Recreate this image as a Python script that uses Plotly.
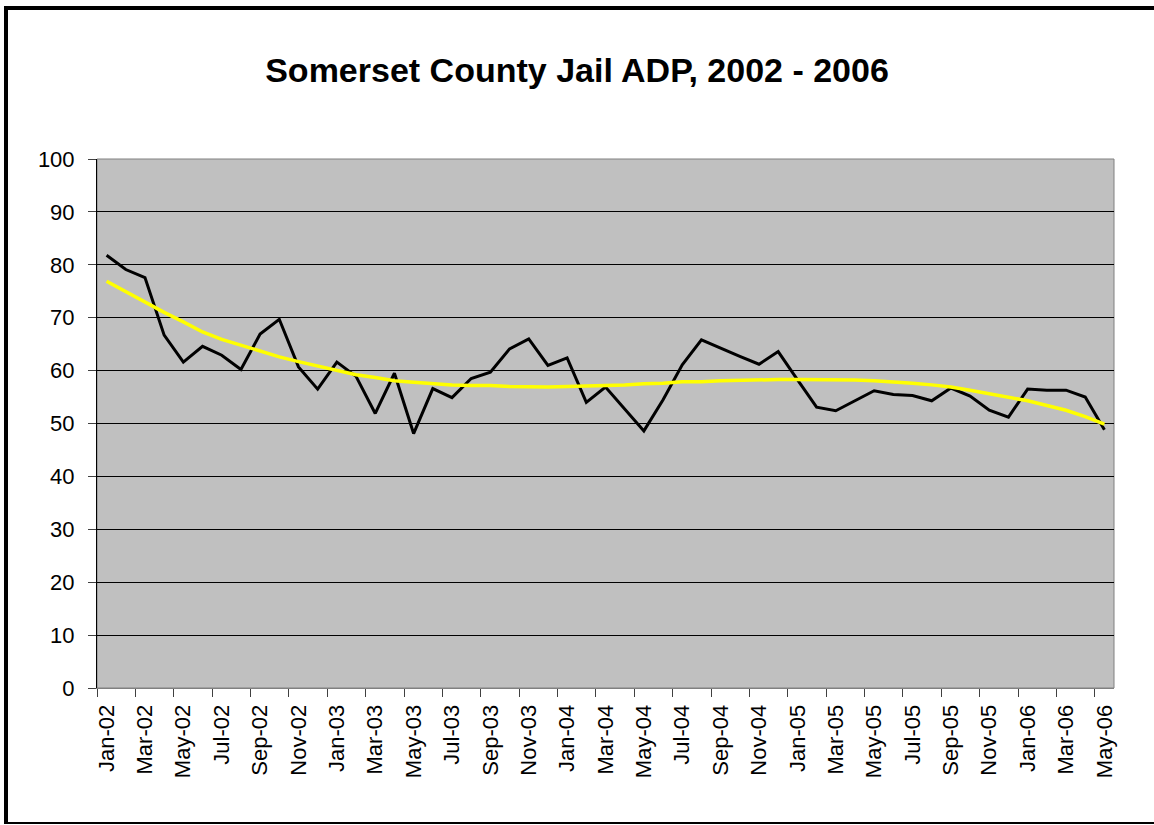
import plotly.graph_objects as go

months = ["Jan-02", "Feb-02", "Mar-02", "Apr-02", "May-02", "Jun-02", "Jul-02", "Aug-02", "Sep-02", "Oct-02", "Nov-02", "Dec-02",
          "Jan-03", "Feb-03", "Mar-03", "Apr-03", "May-03", "Jun-03", "Jul-03", "Aug-03", "Sep-03", "Oct-03", "Nov-03", "Dec-03",
          "Jan-04", "Feb-04", "Mar-04", "Apr-04", "May-04", "Jun-04", "Jul-04", "Aug-04", "Sep-04", "Oct-04", "Nov-04", "Dec-04",
          "Jan-05", "Feb-05", "Mar-05", "Apr-05", "May-05", "Jun-05", "Jul-05", "Aug-05", "Sep-05", "Oct-05", "Nov-05", "Dec-05",
          "Jan-06", "Feb-06", "Mar-06", "Apr-06", "May-06"]

adp = [81.8, 79.1, 77.6, 66.7, 61.6, 64.6, 62.9, 60.2, 66.9, 69.7,
       60.7, 56.5, 61.6, 58.9, 51.9, 59.5, 48.1, 56.6, 54.9, 58.5,
       59.7, 64.1, 66.0, 61.0, 62.4, 54.0, 56.9, 52.7, 48.6, 54.5,
       61.1, 65.8, 64.2, 62.7, 61.2, 63.6, 58.3, 53.1, 52.4, 54.3,
       56.2, 55.5, 55.3, 54.3, 56.7, 55.2, 52.5, 51.2, 56.5, 56.3,
       56.3, 55.0, 48.8]

trend = [76.9, 74.9, 73.0, 71.0, 69.2, 67.3, 65.9, 64.8, 63.7, 62.6,
         61.7, 60.9, 60.0, 59.2, 58.7, 58.1, 57.8, 57.5, 57.3, 57.2,
         57.2, 57.0, 56.9, 56.9, 57.0, 57.1, 57.1, 57.3, 57.5, 57.6,
         57.9, 57.9, 58.1, 58.2, 58.2, 58.3, 58.3, 58.3, 58.3, 58.2,
         58.1, 57.9, 57.6, 57.3, 56.9, 56.3, 55.6, 55.0, 54.3, 53.4,
         52.5, 51.3, 49.9]

label_months = months[::2]
title = "Somerset County Jail ADP, 2002 - 2006"

W, H = 1154, 825
ML, MR, MT, MB = 97, 40, 159, 137
PW, PH = W - ML - MR, H - MT - MB

def px(x):
    return (x - ML) / PW

def py(y):
    return (H - MB - y) / PH

FONT = "Liberation Sans, Arial, sans-serif"

fig = go.Figure()
fig.add_trace(go.Scatter(x=months, y=adp, mode="lines",
                         line=dict(color="black", width=3), showlegend=False))
fig.add_trace(go.Scatter(x=months, y=trend, mode="lines",
                         line=dict(color="#FFFF00", width=3.5), showlegend=False))
# helper trace for boundary tick marks
n = len(months)
fig.add_trace(go.Scatter(x=[-0.5], y=[0], mode="lines", xaxis="x2",
                         showlegend=False, hoverinfo="skip"))

fig.update_layout(
    width=W, height=H,
    margin=dict(l=ML, r=MR, t=MT, b=MB),
    paper_bgcolor="white",
    plot_bgcolor="#C0C0C0",
    font=dict(family=FONT, color="black", size=22),
    title=dict(text="<b>" + title + "</b>", x=0.5, xref="container", xanchor="center",
               y=1 - 70 / H, yref="container", yanchor="middle",
               font=dict(family=FONT, size=34, color="black")),
    xaxis=dict(type="category", categoryorder="array", categoryarray=months,
               range=[-0.5, n - 0.5], tickmode="array", tickvals=label_months,
               ticktext=label_months, tickangle=-90, ticks="", showgrid=False,
               showline=True, linecolor="#808080", linewidth=1,
               ticklabelstandoff=7, tickfont=dict(size=22)),
    xaxis2=dict(overlaying="x", anchor="y", side="bottom", range=[-0.5, n - 0.5],
                tickmode="array", tickvals=[i - 0.5 for i in range(0, n, 2)],
                ticks="outside", ticklen=8, tickcolor="#404040", tickwidth=1,
                showticklabels=False, showgrid=False, zeroline=False, showline=False),
    yaxis=dict(range=[0, 100], dtick=10, tick0=0, ticks="outside", ticklen=8,
               tickcolor="#404040", showgrid=True, gridcolor="black", gridwidth=1,
               zeroline=False, showline=True, linecolor="black", linewidth=1,
               ticklabelstandoff=9, tickfont=dict(size=22)),
    shapes=[
        dict(type="rect", xref="paper", yref="paper", x0=0, x1=1, y0=0, y1=1,
             line=dict(color="#808080", width=1), layer="below"),
        dict(type="line", xref="paper", yref="paper", x0=px(6), x1=px(6), y0=py(6), y1=py(824),
             line=dict(color="black", width=4)),
        dict(type="line", xref="paper", yref="paper", x0=px(4), x1=px(1175), y0=py(8), y1=py(8),
             line=dict(color="black", width=4)),
        dict(type="line", xref="paper", yref="paper", x0=px(4), x1=px(1175), y0=py(823), y1=py(823),
             line=dict(color="black", width=2)),
    ],
)

fig.write_html("out.html", config={"displayModeBar": False},
               post_script="document.body.style.margin='0';document.body.style.overflow='hidden';"
                           "document.documentElement.style.overflow='hidden';")
